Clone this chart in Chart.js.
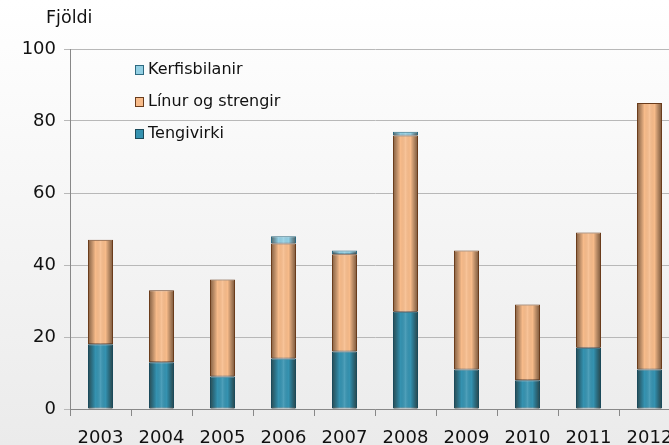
<!DOCTYPE html>
<html><head><meta charset="utf-8">
<script src="https://cdn.jsdelivr.net/npm/chart.js@4"></script>
<style>
html,body{margin:0;padding:0;overflow:hidden;width:669px;height:445px;background:linear-gradient(#ffffff,#ebebeb);}
#wrap{width:700px;height:445px;position:relative}
</style>
</head><body><div id="wrap"><canvas id="c" width="700" height="445"></canvas></div>
<script>
const years = ['2003','2004','2005','2006','2007','2008','2009','2010','2011','2012'];
const tengivirki = [18,13,9,14,16,27,11,8,17,11];
const linur = [29,20,27,32,27,49,33,21,32,74];
const kerfisbilanir = [0,0,0,2,1,1,0,0,0,0];
const yTitle = 'Fjöldi';
const FONT = "'DejaVu Sans', Verdana, sans-serif";

const shadePlugin = {
  id: 'shade',
  afterDatasetsDraw(chart) {
    const ctx = chart.ctx;
    chart.data.datasets.forEach((ds, di) => {
      const meta = chart.getDatasetMeta(di);
      meta.data.forEach((bar, i) => {
        if (ds.data[i] == null) return;
        const {x, y, base, width} = bar.getProps(['x','y','base','width'], true);
        const l = x - width/2, r = x + width/2;
        const g = ctx.createLinearGradient(l, 0, r, 0);
        g.addColorStop(0, 'rgba(40,20,5,0.55)');
        g.addColorStop(0.3, 'rgba(0,0,0,0)');
        g.addColorStop(0.5, 'rgba(255,255,255,0.12)');
        g.addColorStop(0.7, 'rgba(0,0,0,0)');
        g.addColorStop(1, 'rgba(40,20,5,0.6)');
        ctx.save();
        ctx.fillStyle = g;
        ctx.fillRect(l + 1, Math.min(y, base) + 1, width - 2, Math.abs(base - y) - 1);
        ctx.restore();
      });
    });
  }
};

const legendPlugin = {
  id: 'insideLegend',
  afterDraw(chart) {
    const ctx = chart.ctx;
    ctx.save();
    ctx.font = '17.5px ' + FONT;
    ctx.fillStyle = '#111';
    ctx.textBaseline = 'middle';
    ctx.fillText(yTitle, 46, 18);
    ctx.font = '16px ' + FONT;
    const order = [2, 1, 0];
    order.forEach((di, k) => {
      const ds = chart.data.datasets[di];
      const yy = 70 + k * 32;
      ctx.fillStyle = ds.backgroundColor;
      ctx.fillRect(135, yy - 4, 8, 9);
      ctx.strokeStyle = ds.borderColor;
      ctx.lineWidth = 1;
      ctx.strokeRect(135.5, yy - 4.5, 8, 9);
      ctx.fillStyle = '#111';
      ctx.fillText(ds.label, 148, yy);
    });
    ctx.restore();
  }
};

new Chart(document.getElementById('c'), {
  type: 'bar',
  data: {
    labels: years,
    datasets: [
      {label: 'Tengivirki', data: tengivirki, backgroundColor: '#3592b0', borderColor: '#1c4a5a', borderWidth: 1},
      {label: 'Línur og strengir', data: linur, backgroundColor: '#f7bb8a', borderColor: '#6a3c1c', borderWidth: 1},
      {label: 'Kerfisbilanir', data: kerfisbilanir.map(v => v || null), backgroundColor: '#93cfe3', borderColor: '#2e6a80', borderWidth: 1}
    ]
  },
  options: {
    responsive: false,
    animation: false,
    layout: {padding: {top: 49, right: 20, left: 0, bottom: 0}},
    datasets: {bar: {barPercentage: 0.41, categoryPercentage: 1.0, borderSkipped: false}},
    plugins: {legend: {display: false}, tooltip: {enabled: false}},
    scales: {
      x: {
        stacked: true,
        afterFit(s) { s.height = 36; },
        grid: {display: true, drawOnChartArea: false, drawTicks: true, tickLength: 7, offset: true, color: '#888'},
        border: {color: '#888'},
        ticks: {font: {family: FONT, size: 18}, color: '#111', padding: 12, maxRotation: 0, autoSkip: false}
      },
      y: {
        stacked: true,
        min: 0, max: 100,
        afterFit(s) { s.width = 70; },
        grid: {color: '#b8b8b8', tickLength: 6, lineWidth: 1},
        border: {color: '#888'},
        ticks: {stepSize: 20, font: {family: FONT, size: 18}, color: '#111', padding: 8}
      }
    }
  },
  plugins: [shadePlugin, legendPlugin]
});
</script>
</body></html>
